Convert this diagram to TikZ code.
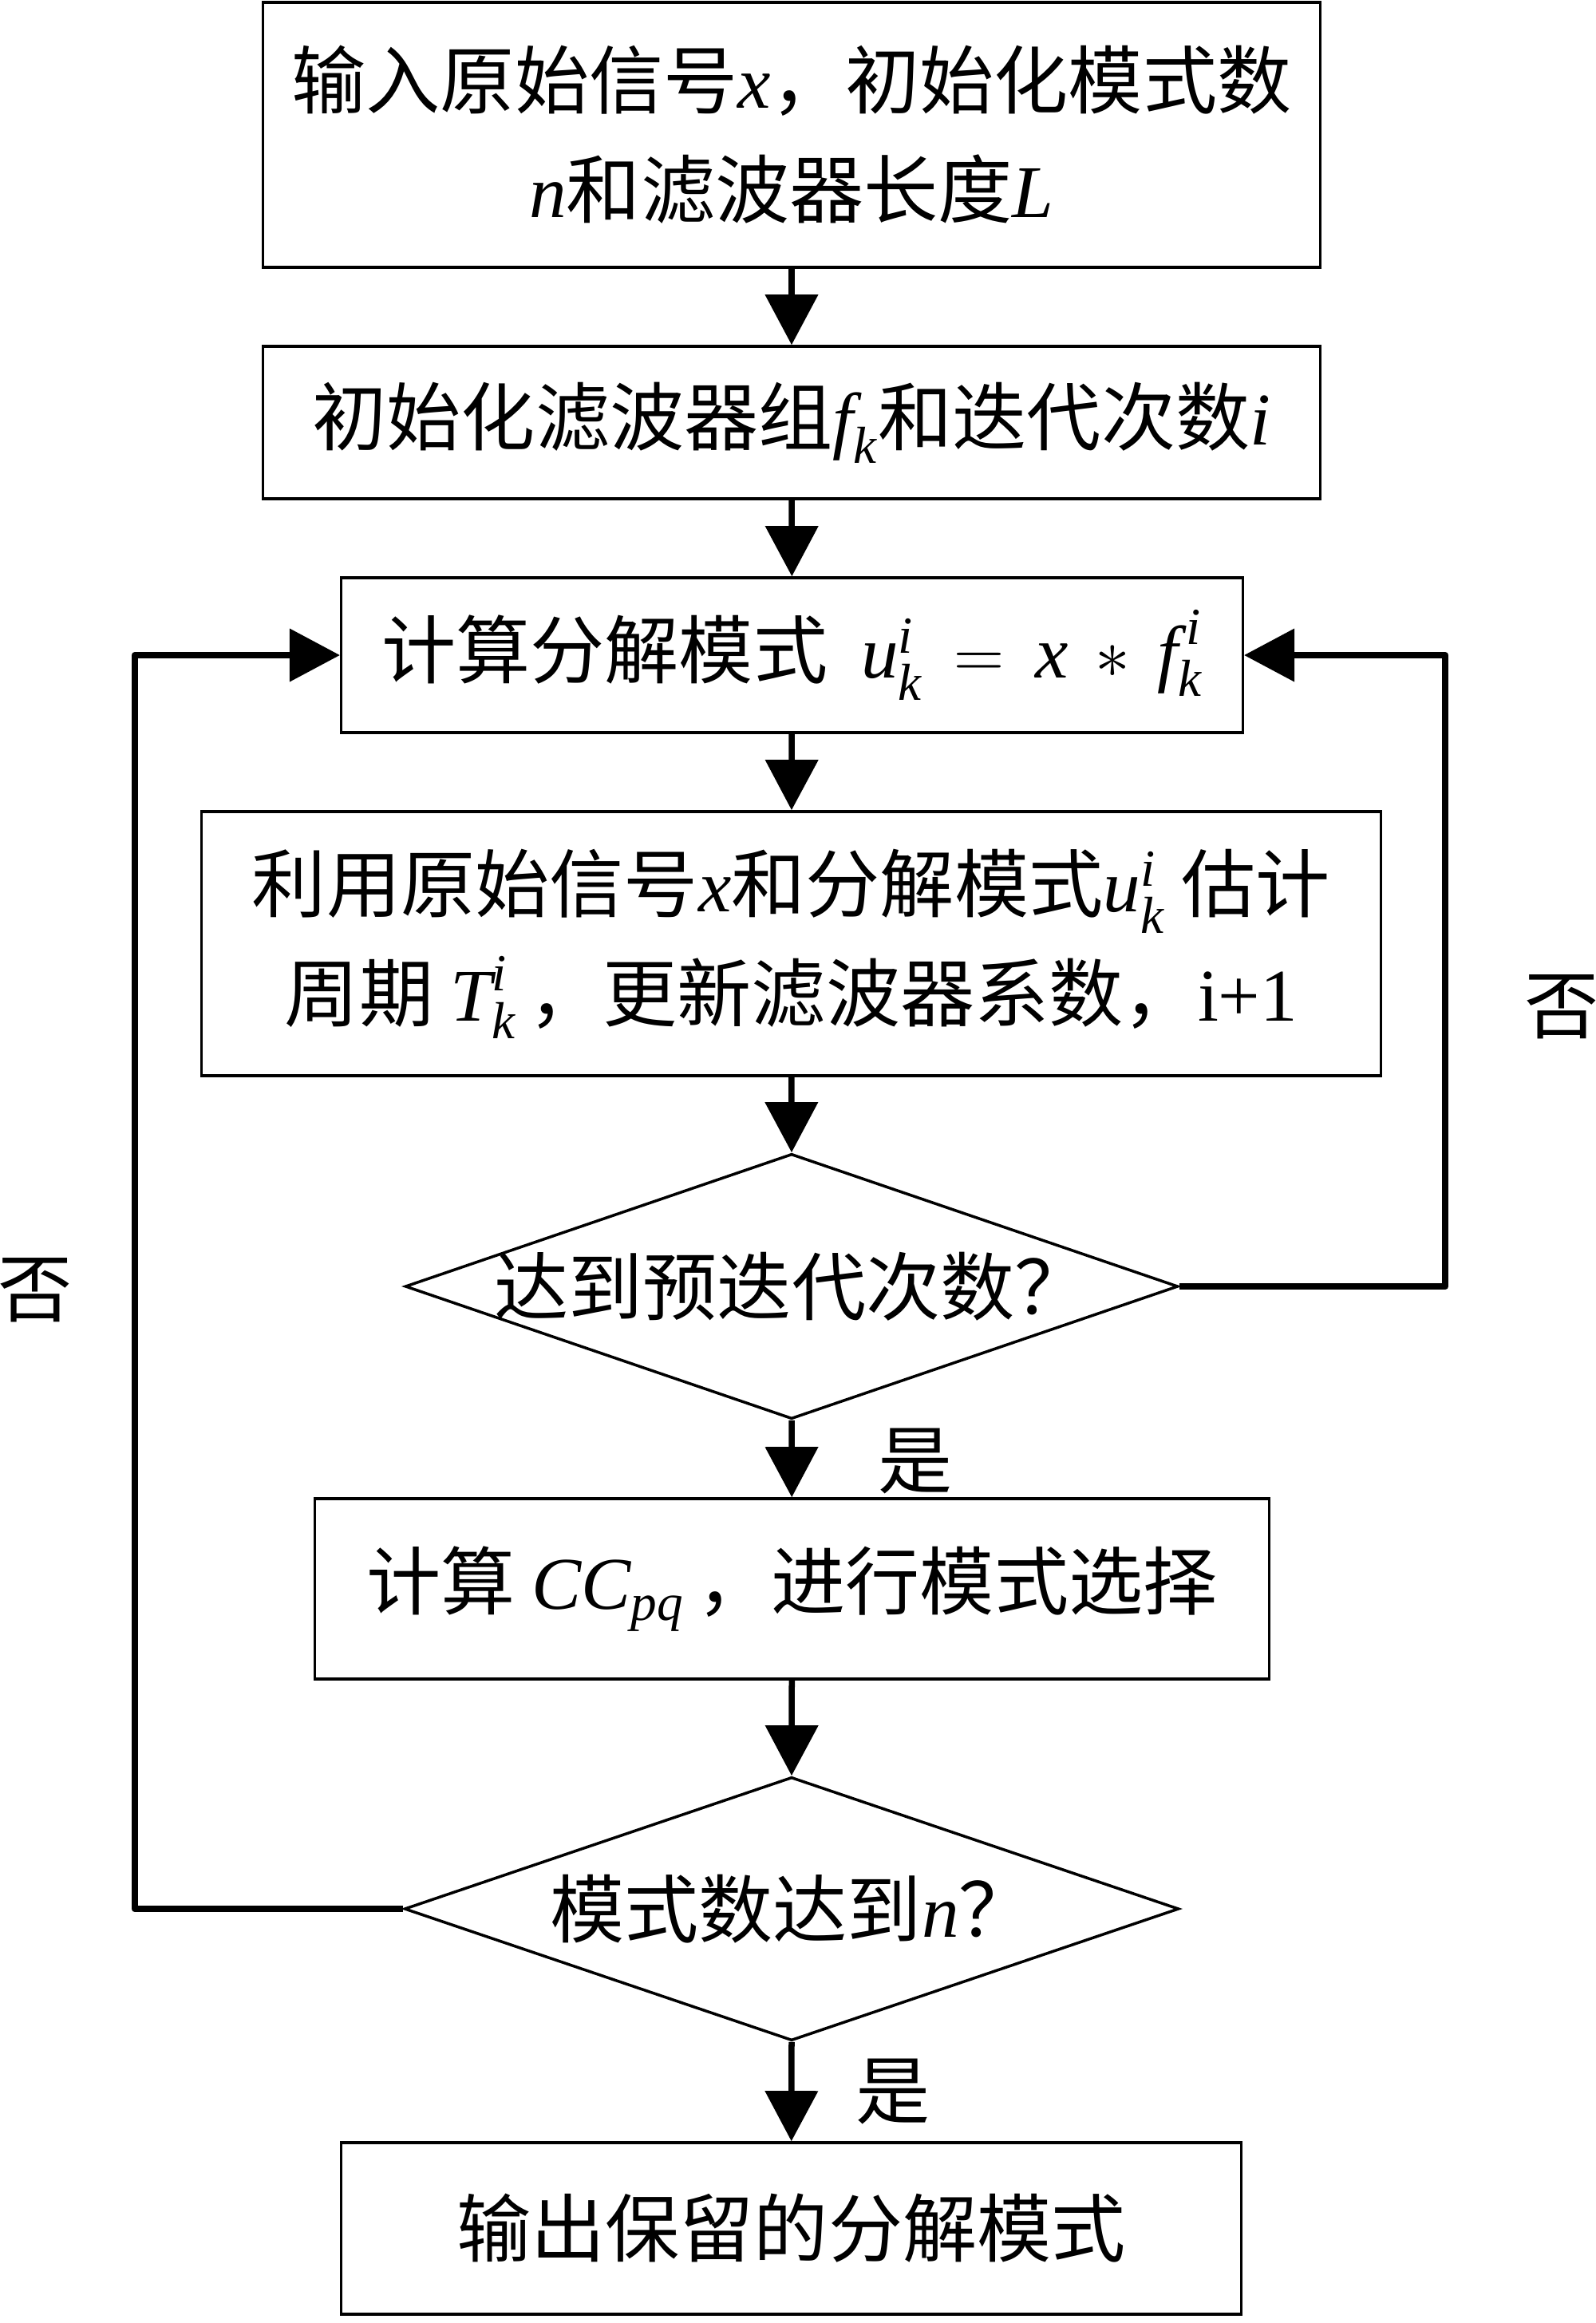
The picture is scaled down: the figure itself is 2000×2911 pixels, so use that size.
\documentclass[tikz,border=0pt]{standalone}
\usepackage{amsmath}
\usepackage{fontspec}
\setmainfont{Noto Sans CJK SC}
\newfontfamily\tms{Liberation Serif}
\usetikzlibrary{arrows.meta,shapes.geometric}
\newcommand\V[1]{\text{\tms\itshape #1}}
\begin{document}
\begin{tikzpicture}[x=0.01cm,y=-0.01cm,
  every node/.style={font=\fontsize{26.5}{39}\selectfont, align=center},
  box/.style={draw, line width=0.035cm, rectangle, inner sep=0pt},
  dia/.style={draw, line width=0.035cm, diamond, inner sep=0pt},
  conn/.style={line width=0.075cm, -{Triangle[width=0.65cm,length=0.63cm]}},
  loopline/.style={line width=0.085cm, line join=round},
  lbl/.style={inner sep=0pt}]
\useasboundingbox (0,0) rectangle (2000,2911);

\node[box, minimum width=13.24cm, minimum height=3.32cm] (b1) at (992,169)
  {输入原始信号\V{x}，初始化模式数\\\V{n}和滤波器长度\V{L}};
\node[box, minimum width=13.24cm, minimum height=1.91cm] (b2) at (992,529.5)
  {初始化滤波器组$\V{f}_{\V{k}}$和迭代次数\V{i}};
\node[box, minimum width=11.29cm, minimum height=1.94cm] (b3) at (992.5,821)
  {计算分解模式\ \ $\V{u}^{\V{i}}_{\V{k}}\,=\,\V{x}\,\ast\,\V{f}^{\,\V{i}}_{\V{k}}$};
\node[box, minimum width=14.77cm, minimum height=3.31cm] (b4) at (991.5,1182.5)
  {利用原始信号\V{x}和分解模式$\V{u}^{\V{i}}_{\V{k}}$\ 估计\\周期\ $\V{T}^{\V{i}}_{\V{k}}$\,，更新滤波器系数，{\tms i+1}};
\node[dia, minimum width=9.68cm, minimum height=3.32cm] (d1) at (992,1612) {};
\node at (d1) {达到预迭代次数？};
\node[box, minimum width=11.95cm, minimum height=2.26cm] (b5) at (992.5,1991)
  {计算\ $\V{CC}_{\V{pq}}$\,，进行模式选择};
\node[dia, minimum width=9.70cm, minimum height=3.30cm] (d2) at (992,2392) {};
\node at (d2) {模式数达到\V{n}？};
\node[box, minimum width=11.27cm, minimum height=2.15cm] (b6) at (991.5,2792.5)
  {输出保留的分解模式};

\draw[conn] (b1) -- (b2);
\draw[conn] (b2) -- (b3);
\draw[conn] (b3) -- (b4);
\draw[conn] (b4) -- (d1.north);
\draw[conn] (d1.south) -- (b5);
\draw[conn] (b5) -- (d2.north);
\draw[conn] (d2.south) -- (b6);

\coordinate (rR) at (1811,1612);
\coordinate (lL) at (169,2392);
\draw[loopline] (d1.east) -- (rR) |- ([xshift=0.3cm]b3.east);
\draw[conn] ([xshift=0.4cm]b3.east) -- (b3.east);
\draw[loopline] (d2.west) -- (lL) |- ([xshift=-0.3cm]b3.west);
\draw[conn] ([xshift=-0.4cm]b3.west) -- (b3.west);

\node[lbl] (no1) at (1957,1262) {否};
\node[lbl] (no2) at (44,1617) {否};
\node[lbl] (yes1) at (1147,1831) {是};
\node[lbl] (yes2) at (1119,2621) {是};
\end{tikzpicture}
\end{document}
